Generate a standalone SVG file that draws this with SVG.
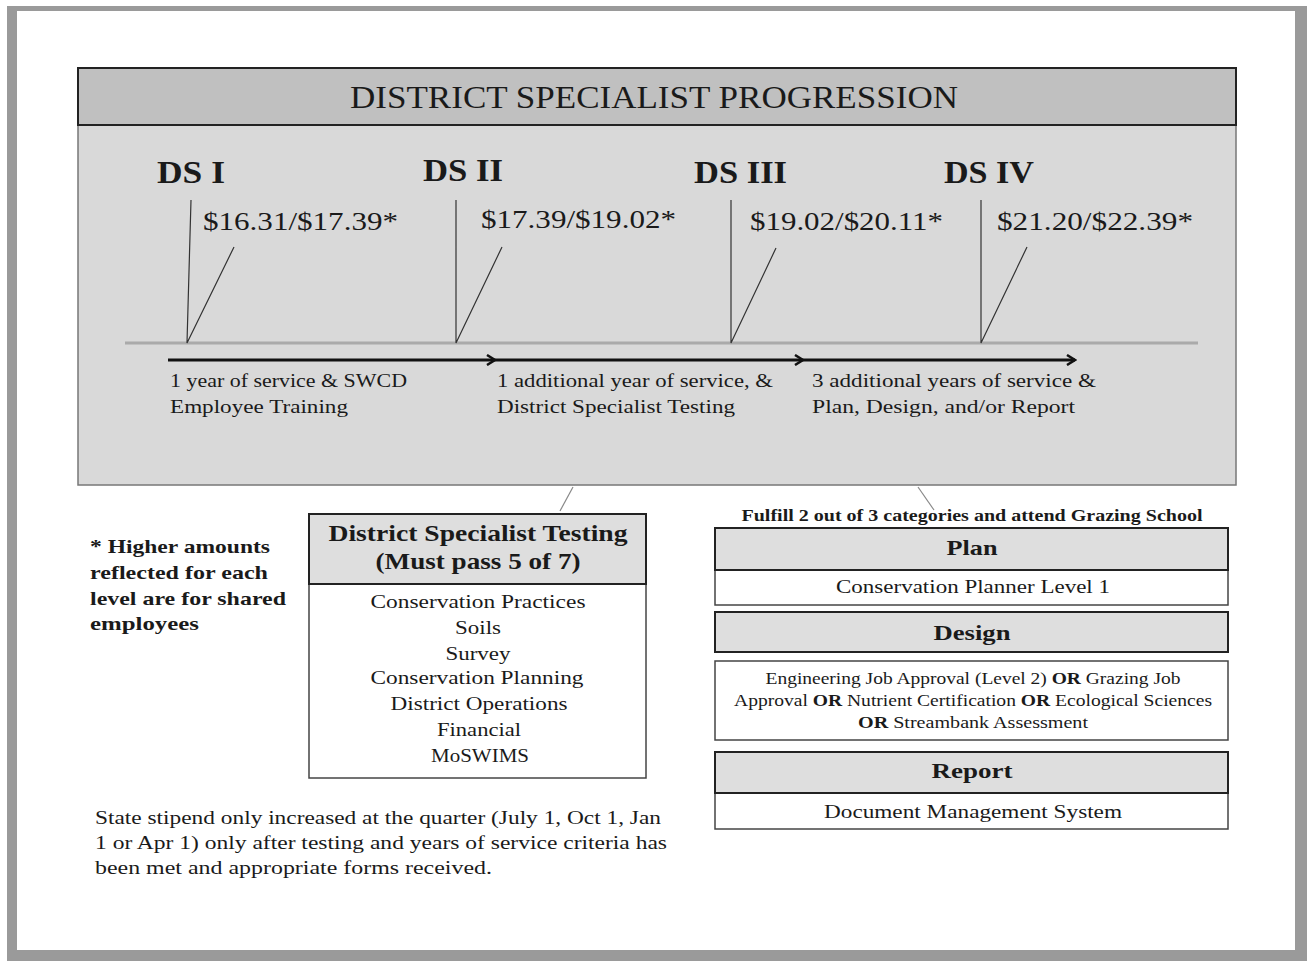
<svg xmlns="http://www.w3.org/2000/svg" width="1307" height="961" viewBox="0 0 1307 961">
<defs>
<marker id="arr" markerWidth="12" markerHeight="12" refX="10" refY="6" orient="auto" markerUnits="userSpaceOnUse">
<path d="M2,1 L10,6 L2,11" fill="none" stroke="#111" stroke-width="2.5"/>
</marker>
</defs>
<style>
.serif{font-family:"Liberation Serif","DejaVu Serif",serif;fill:#1a1a1a}
.b{font-weight:bold}
.ds{font-size:31px;font-weight:bold}
.price{font-size:26px}
.tl{font-size:19px}
.hdr{fill:#dedede;stroke:#222;stroke-width:2}
.body{fill:#fff;stroke:#444;stroke-width:1.5}
.item{font-size:18px}
.tick{stroke:#333;stroke-width:1.2;fill:none}
.conn{stroke:#888;stroke-width:1.2;fill:none}
.arrow{stroke:#111;stroke-width:3;fill:none}
</style>
<rect x="0" y="0" width="1307" height="961" fill="#fff"/>
<rect x="7" y="6" width="1300" height="955" fill="#9a9a9a"/>
<rect x="17" y="11" width="1278" height="939" fill="#fff"/>

<g id="panel">
<rect x="78" y="125" width="1158" height="360" fill="#d9d9d9" stroke="#777" stroke-width="1.5"/>
<rect x="78" y="68" width="1158" height="57" fill="#c0c0c0" stroke="#222" stroke-width="2"/>
<text class="serif" x="654" y="108" font-size="32" text-anchor="middle" textLength="608" lengthAdjust="spacingAndGlyphs">DISTRICT SPECIALIST PROGRESSION</text>
<line x1="125" y1="343" x2="1198" y2="343" stroke="#aaa" stroke-width="3"/>
</g>

<g id="ds1">
<text class="serif ds" x="157" y="183" textLength="68" lengthAdjust="spacingAndGlyphs">DS I</text>
<text class="serif price" x="203" y="230" textLength="195" lengthAdjust="spacingAndGlyphs">$16.31/$17.39*</text>
</g>
<g id="ds2">
<text class="serif ds" x="423" y="181" textLength="80" lengthAdjust="spacingAndGlyphs">DS II</text>
<text class="serif price" x="481" y="228" textLength="195" lengthAdjust="spacingAndGlyphs">$17.39/$19.02*</text>
</g>
<g id="ds3">
<text class="serif ds" x="694" y="183" textLength="93" lengthAdjust="spacingAndGlyphs">DS III</text>
<text class="serif price" x="750" y="230" textLength="193" lengthAdjust="spacingAndGlyphs">$19.02/$20.11*</text>
</g>
<g id="ds4">
<text class="serif ds" x="944" y="183" textLength="90" lengthAdjust="spacingAndGlyphs">DS IV</text>
<text class="serif price" x="997" y="230" textLength="196" lengthAdjust="spacingAndGlyphs">$21.20/$22.39*</text>
</g>

<g id="step1">
<text class="serif tl" x="170" y="387" textLength="237" lengthAdjust="spacingAndGlyphs">1 year of service &amp; SWCD</text>
<text class="serif tl" x="170" y="413" textLength="178" lengthAdjust="spacingAndGlyphs">Employee Training</text>
</g>
<g id="step2">
<text class="serif tl" x="497" y="387" textLength="276" lengthAdjust="spacingAndGlyphs">1 additional year of service, &amp;</text>
<text class="serif tl" x="497" y="413" textLength="238" lengthAdjust="spacingAndGlyphs">District Specialist Testing</text>
</g>
<g id="step3">
<text class="serif tl" x="812" y="387" textLength="284" lengthAdjust="spacingAndGlyphs">3 additional years of service &amp;</text>
<text class="serif tl" x="812" y="413" textLength="263" lengthAdjust="spacingAndGlyphs">Plan, Design, and/or Report</text>
</g>

<g id="connectors">
<path class="tick" d="M191,200 L187,343 L234,247"/>
<path class="tick" d="M456,200 L456,343 L502,247"/>
<path class="tick" d="M731,200 L731,343 L776,248"/>
<path class="tick" d="M981,200 L981,343 L1027,247"/>
<line class="arrow" x1="168" y1="360" x2="495" y2="360" marker-end="url(#arr)"/>
<line class="arrow" x1="495" y1="360" x2="803" y2="360" marker-end="url(#arr)"/>
<line class="arrow" x1="803" y1="360" x2="1075" y2="360" marker-end="url(#arr)"/>
<line class="conn" x1="573" y1="487" x2="560" y2="511"/>
<line class="conn" x1="918" y1="487" x2="934" y2="510"/>
</g>

<g id="footnote">
<text class="serif b" font-size="19"><tspan x="90" y="553" textLength="180" lengthAdjust="spacingAndGlyphs">* Higher amounts</tspan><tspan x="90" y="579" textLength="178" lengthAdjust="spacingAndGlyphs">reflected for each</tspan><tspan x="90" y="605" textLength="196" lengthAdjust="spacingAndGlyphs">level are for shared</tspan><tspan x="90" y="630" textLength="109" lengthAdjust="spacingAndGlyphs">employees</tspan></text>
</g>

<g id="testing">
<rect class="body" x="309" y="584" width="337" height="194"/>
<rect class="hdr" x="309" y="514" width="337" height="70"/>
<text class="serif b" font-size="23" x="478" y="541" text-anchor="middle" textLength="299" lengthAdjust="spacingAndGlyphs">District Specialist Testing</text>
<text class="serif b" font-size="23" x="478" y="569" text-anchor="middle" textLength="205" lengthAdjust="spacingAndGlyphs">(Must pass 5 of 7)</text>
<text class="serif item" x="478" y="608" text-anchor="middle" textLength="215" lengthAdjust="spacingAndGlyphs">Conservation Practices</text>
<text class="serif item" x="478" y="634" text-anchor="middle" textLength="46" lengthAdjust="spacingAndGlyphs">Soils</text>
<text class="serif item" x="478" y="660" text-anchor="middle" textLength="65" lengthAdjust="spacingAndGlyphs">Survey</text>
<text class="serif item" x="477" y="684" text-anchor="middle" textLength="213" lengthAdjust="spacingAndGlyphs">Conservation Planning</text>
<text class="serif item" x="479" y="710" text-anchor="middle" textLength="177" lengthAdjust="spacingAndGlyphs">District Operations</text>
<text class="serif item" x="479" y="736" text-anchor="middle" textLength="84" lengthAdjust="spacingAndGlyphs">Financial</text>
<text class="serif item" x="480" y="762" text-anchor="middle" textLength="98" lengthAdjust="spacingAndGlyphs">MoSWIMS</text>
</g>

<g id="stipend">
<text class="serif" font-size="18"><tspan x="95" y="824" textLength="566" lengthAdjust="spacingAndGlyphs">State stipend only increased at the quarter (July 1, Oct 1, Jan</tspan><tspan x="95" y="849" textLength="572" lengthAdjust="spacingAndGlyphs">1 or Apr 1) only after testing and years of service criteria has</tspan><tspan x="95" y="874" textLength="397" lengthAdjust="spacingAndGlyphs">been met and appropriate forms received.</tspan></text>
</g>

<g id="fulfill">
<text class="serif b" font-size="16" x="972" y="521" text-anchor="middle" textLength="461" lengthAdjust="spacingAndGlyphs">Fulfill 2 out of 3 categories and attend Grazing School</text>
</g>

<g id="plan">
<rect class="body" x="715" y="570" width="513" height="35"/>
<rect class="hdr" x="715" y="528" width="513" height="42"/>
<text class="serif b" font-size="21" x="972" y="555" text-anchor="middle" textLength="51" lengthAdjust="spacingAndGlyphs">Plan</text>
<text class="serif" font-size="18" x="973" y="593" text-anchor="middle" textLength="274" lengthAdjust="spacingAndGlyphs">Conservation Planner Level 1</text>
</g>

<g id="design">
<rect class="hdr" x="715" y="612" width="513" height="40"/>
<text class="serif b" font-size="21" x="972" y="640" text-anchor="middle" textLength="77" lengthAdjust="spacingAndGlyphs">Design</text>
<rect class="body" x="715" y="661" width="513" height="79" stroke="#777"/>
<text class="serif" font-size="16" x="973" y="684" text-anchor="middle" textLength="415" lengthAdjust="spacingAndGlyphs">Engineering Job Approval (Level 2) <tspan class="b">OR</tspan> Grazing Job</text>
<text class="serif" font-size="16" x="973" y="706" text-anchor="middle" textLength="478" lengthAdjust="spacingAndGlyphs">Approval  <tspan class="b">OR</tspan> Nutrient Certification <tspan class="b">OR</tspan> Ecological Sciences</text>
<text class="serif" font-size="16" x="973" y="728" text-anchor="middle" textLength="230" lengthAdjust="spacingAndGlyphs"><tspan class="b">OR</tspan> Streambank Assessment</text>
</g>

<g id="report">
<rect class="body" x="715" y="793" width="513" height="36"/>
<rect class="hdr" x="715" y="752" width="513" height="41"/>
<text class="serif b" font-size="21" x="972" y="778" text-anchor="middle" textLength="81" lengthAdjust="spacingAndGlyphs">Report</text>
<text class="serif" font-size="18" x="973" y="818" text-anchor="middle" textLength="298" lengthAdjust="spacingAndGlyphs">Document Management System</text>
</g>
</svg>
